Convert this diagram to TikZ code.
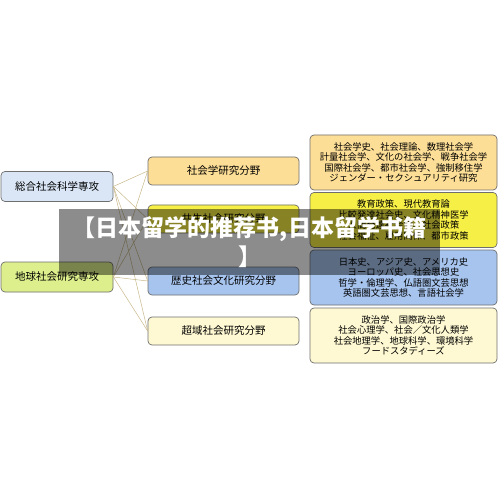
\documentclass[tikz,border=0pt]{standalone}
\usepackage{fontspec}
\newfontfamily\jpfont{Noto Sans CJK JP}
\newfontfamily\scfont{Noto Sans CJK SC}
\definecolor{bdr}{HTML}{6F6F6F}
\definecolor{lnk}{HTML}{C9B98A}
\definecolor{cblue}{HTML}{DAE6F5}
\definecolor{cgreen}{HTML}{DDEF8C}
\definecolor{corange}{HTML}{FDDE96}
\definecolor{cyellow}{HTML}{F6EF45}
\definecolor{cmblue}{HTML}{A7C4EE}
\definecolor{cpale}{HTML}{FEF9D2}
\tikzset{
  box/.style={draw=bdr, line width=0.7pt, rounded corners=4pt, inner sep=0pt, align=center, font=\jpfont\fontsize{10.5}{12}\selectfont},
  leftbox/.style={box, minimum width=112pt, minimum height=30pt},
  midbox/.style={box, minimum width=151pt, minimum height=28pt},
  rightbox/.style={box, minimum width=187pt, minimum height=55pt, font=\jpfont\fontsize{9.3}{10.6}\selectfont},
  link/.style={draw=lnk, line width=0.5pt}
}
\begin{document}
\begin{tikzpicture}[x=1pt,y=-1pt]
\useasboundingbox (0,0) rectangle (500,486);
\fill[white] (0,0) rectangle (500,486);
\node[leftbox, fill=cblue] (L1) at (57,186.5) {総合社会科学専攻};
\node[leftbox, fill=cgreen] (L2) at (57,277) {地球社会研究専攻};
\node[midbox, fill=corange] (M1) at (223.5,171) {社会学研究分野};
\node[midbox, fill=cyellow] (M2) at (223.5,219) {共生社会研究分野};
\node[midbox, fill=cmblue] (M3) at (223.5,281) {歴史社会文化研究分野};
\node[midbox, fill=cpale] (M4) at (223.5,331) {超域社会研究分野};
\node[rightbox, fill=corange] (R1) at (403.5,162.5) {社会学史、社会理論、数理社会学\\計量社会学、文化の社会学、戦争社会学\\国際社会学、都市社会学、強制移住学\\ジェンダー・セクシュアリティ研究};
\node[rightbox, fill=cyellow] (R2) at (403.5,220) {教育政策、現代教育論\\比較発達社会史、文化精神医学\\人間発達社会学、社会政策\\社会福祉、雇用関係、都市政策};
\node[rightbox, fill=cmblue] (R3) at (403.5,277.5) {日本史、アジア史、アメリカ史\\ヨーロッパ史、社会思想史\\哲学・倫理学、仏語圏文芸思想\\英語圏文芸思想、言語社会学};
\node[rightbox, fill=cpale] (R4) at (403.5,335.5) {政治学、国際政治学\\社会心理学、社会／文化人類学\\社会地理学、地球科学、環境科学\\フードスタディーズ};
\foreach \s in {L1,L2}{
  \foreach \t in {M1,M2,M3,M4}{
    \draw[link] (\s.east) -- (\t.west);
  }
}
\node[fill=black, fill opacity=0.45, text opacity=1, text=white, minimum width=381pt, minimum height=66pt, inner sep=0pt, align=center, font=\scfont\bfseries\fontsize{23}{29}\selectfont] (banner) at (249.5,242) {【日本留学的推荐书,日本留学书籍\\】};
\end{tikzpicture}
\end{document}
